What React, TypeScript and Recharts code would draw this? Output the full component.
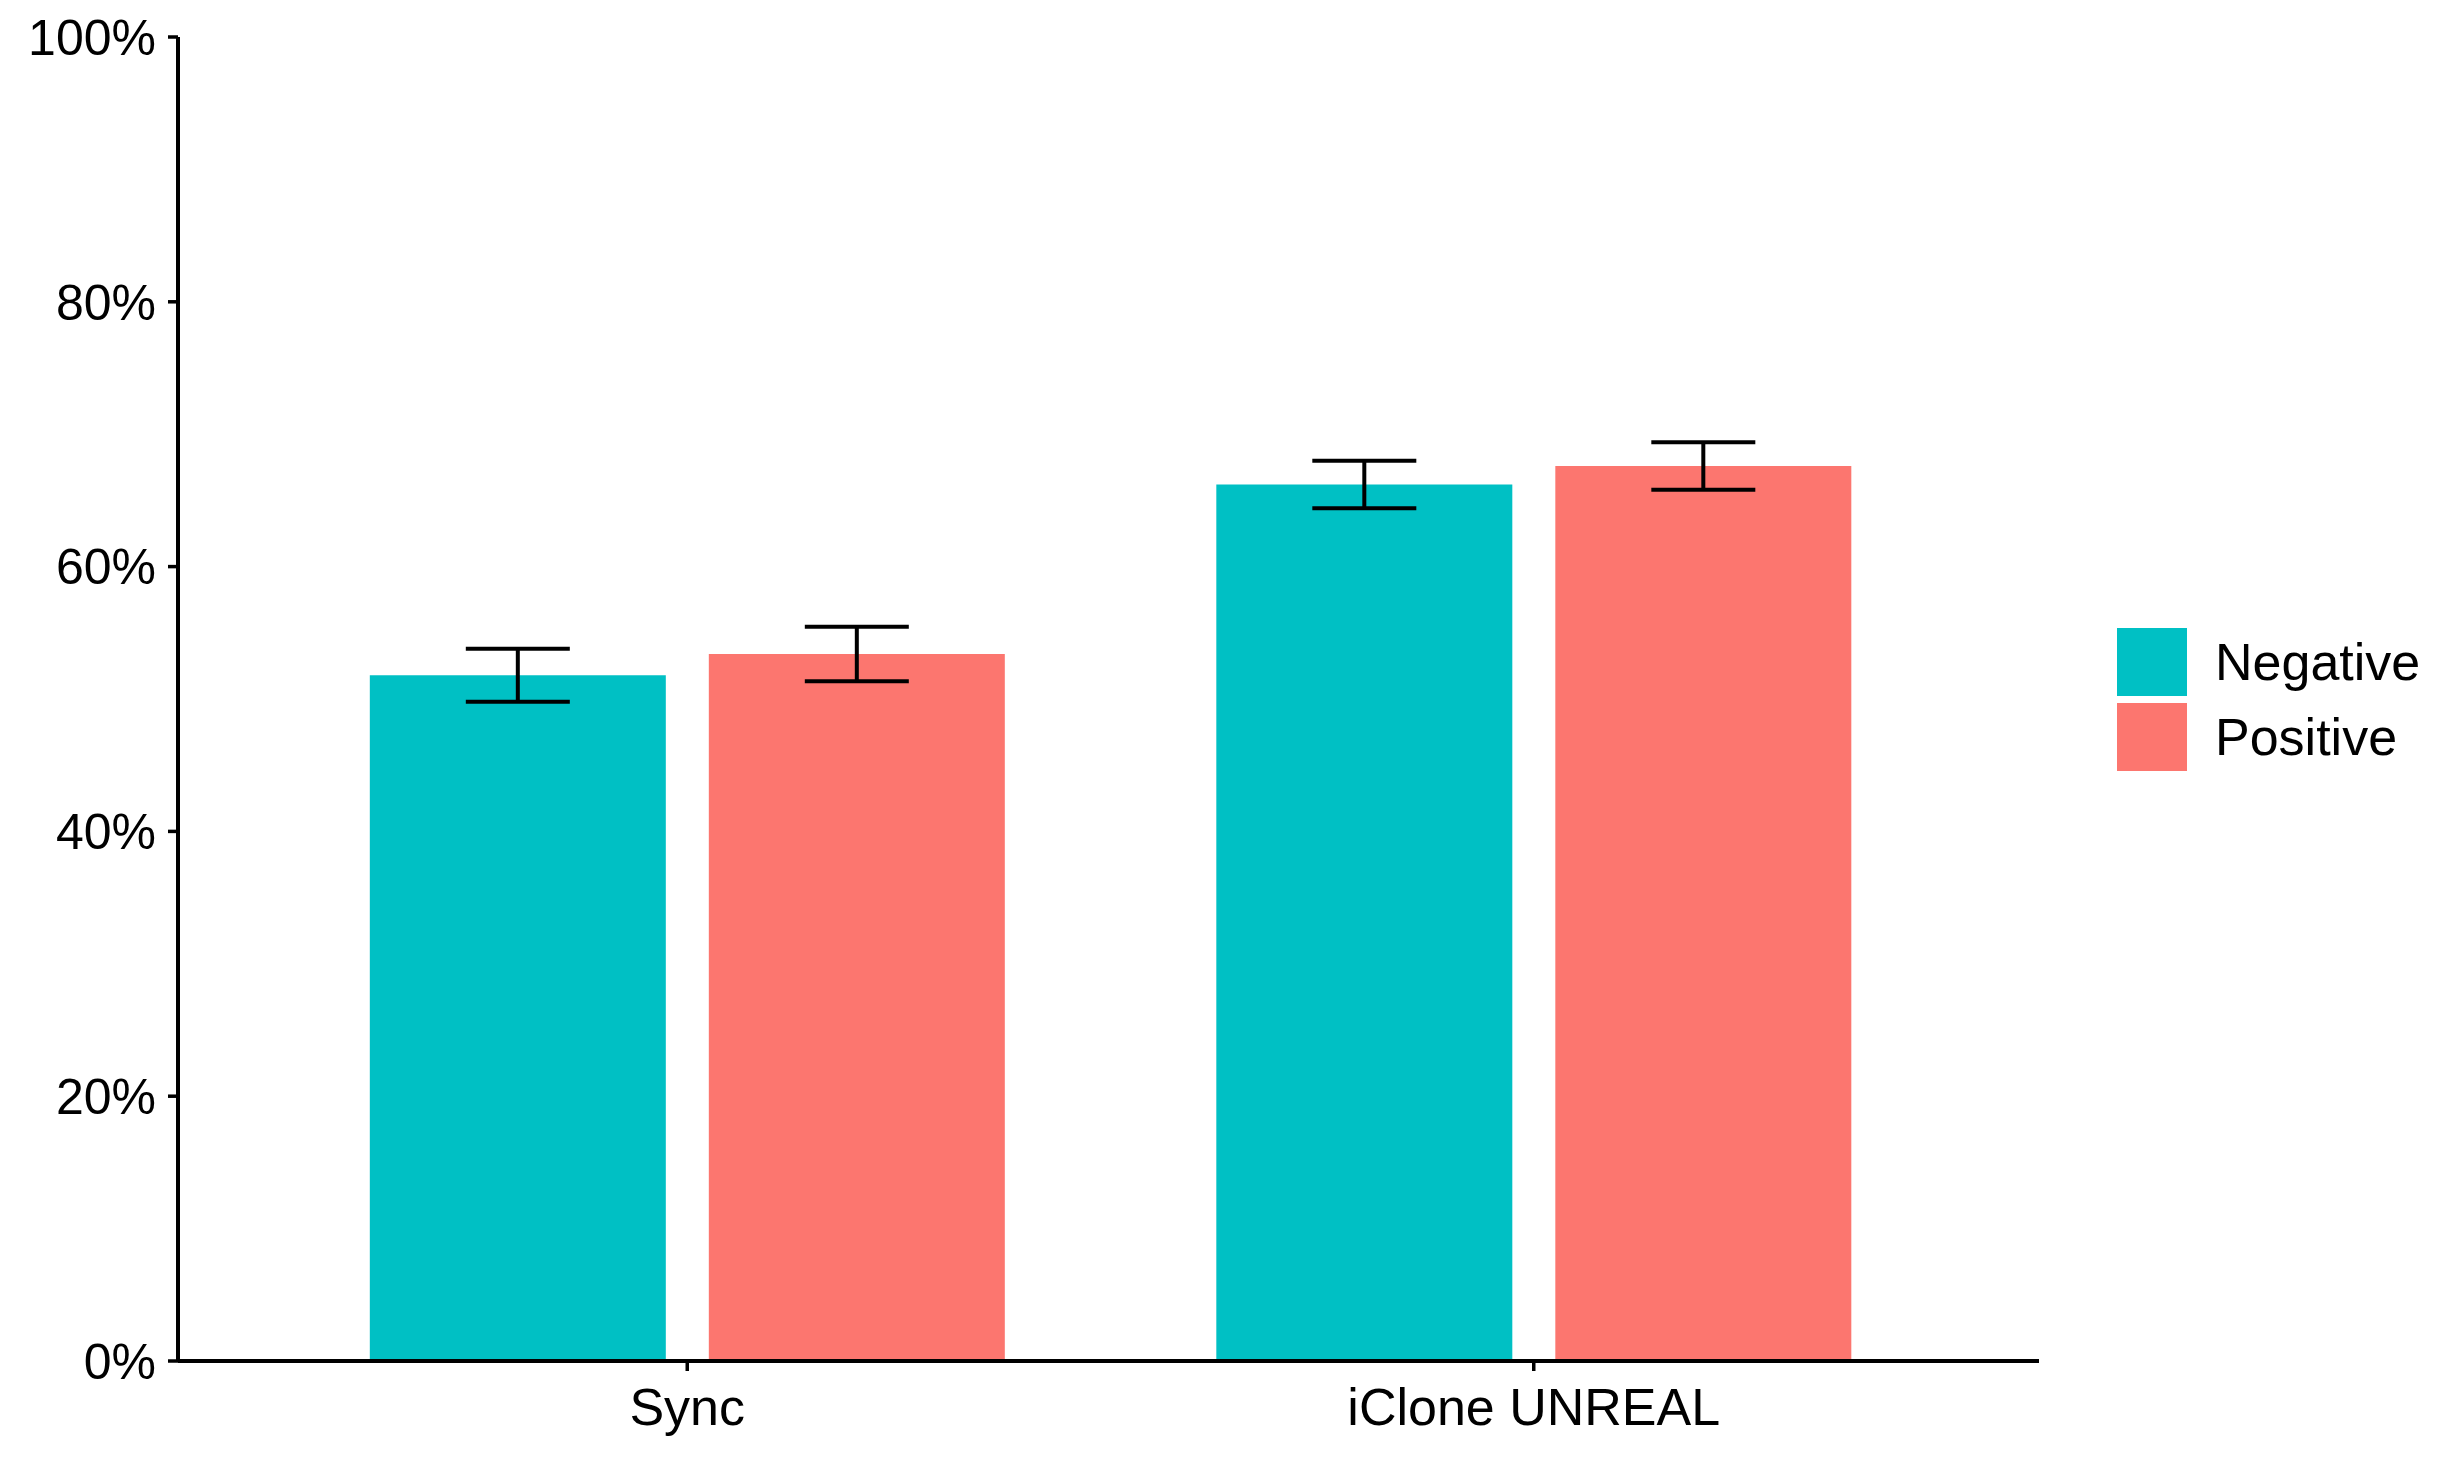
import { BarChart, Bar, XAxis, YAxis, ErrorBar, Legend } from 'recharts';

const categories = ['Sync', 'iClone UNREAL'];
const negative = [51.8, 66.2];
const negativeErr = [2.0, 1.8];
const positive = [53.4, 67.6];
const positiveErr = [2.05, 1.8];
const yTicks = [0, 20, 40, 60, 80, 100];

const series = [
  { key: 'negative', name: 'Negative', color: '#00C0C4' },
  { key: 'positive', name: 'Positive', color: '#FC766F' },
];

const data = categories.map((name, i) => ({
  name,
  negative: negative[i],
  negativeErr: negativeErr[i],
  positive: positive[i],
  positiveErr: positiveErr[i],
}));

const font = '"Liberation Sans", Arial, sans-serif';

function LegendBox() {
  return (
    <div style={{ fontFamily: font, fontSize: 52, color: '#000' }}>
      {series.map(s => (
        <div key={s.key} style={{ display: 'flex', alignItems: 'center', height: 75 }}>
          <div style={{ width: 70, height: 68, background: s.color, marginRight: 28 }} />
          <span>{s.name}</span>
        </div>
      ))}
    </div>
  );
}

export default function App() {
  return (
    <div style={{ position: 'absolute', left: 0, top: 0, width: 2444, height: 1467, background: '#fff' }}>
      <BarChart
        width={2444}
        height={1467}
        data={data}
        margin={{ top: 37, right: 405, bottom: 0, left: 0 }}
        barGap={43}
        barCategoryGap="12.5%"
      >
        <XAxis
          dataKey="name"
          height={106}
          padding={{ left: 86, right: 82 }}
          axisLine={{ stroke: '#000', strokeWidth: 4 }}
          tickLine={{ stroke: '#000', strokeWidth: 3.5 }}
          tickSize={10}
          tickMargin={17}
          tick={{ fill: '#000', fontSize: 52, fontFamily: font }}
        />
        <YAxis
          width={178}
          domain={[0, 100]}
          ticks={yTicks}
          tickFormatter={v => `${v}%`}
          axisLine={{ stroke: '#000', strokeWidth: 4 }}
          tickLine={{ stroke: '#000', strokeWidth: 3.5 }}
          tickSize={10}
          tickMargin={12}
          tick={{ fill: '#000', fontSize: 50, fontFamily: font }}
        />
        <Legend
          layout="horizontal"
          align="center"
          verticalAlign="middle"
          wrapperStyle={{ left: 2117, top: 624, width: 320 }}
          content={() => <LegendBox />}
        />
        {series.map(s => (
          <Bar key={s.key} dataKey={s.key} name={s.name} fill={s.color} isAnimationActive={false}>
            <ErrorBar dataKey={`${s.key}Err`} width={52} stroke="#000" strokeWidth={4} />
          </Bar>
        ))}
      </BarChart>
    </div>
  );
}
